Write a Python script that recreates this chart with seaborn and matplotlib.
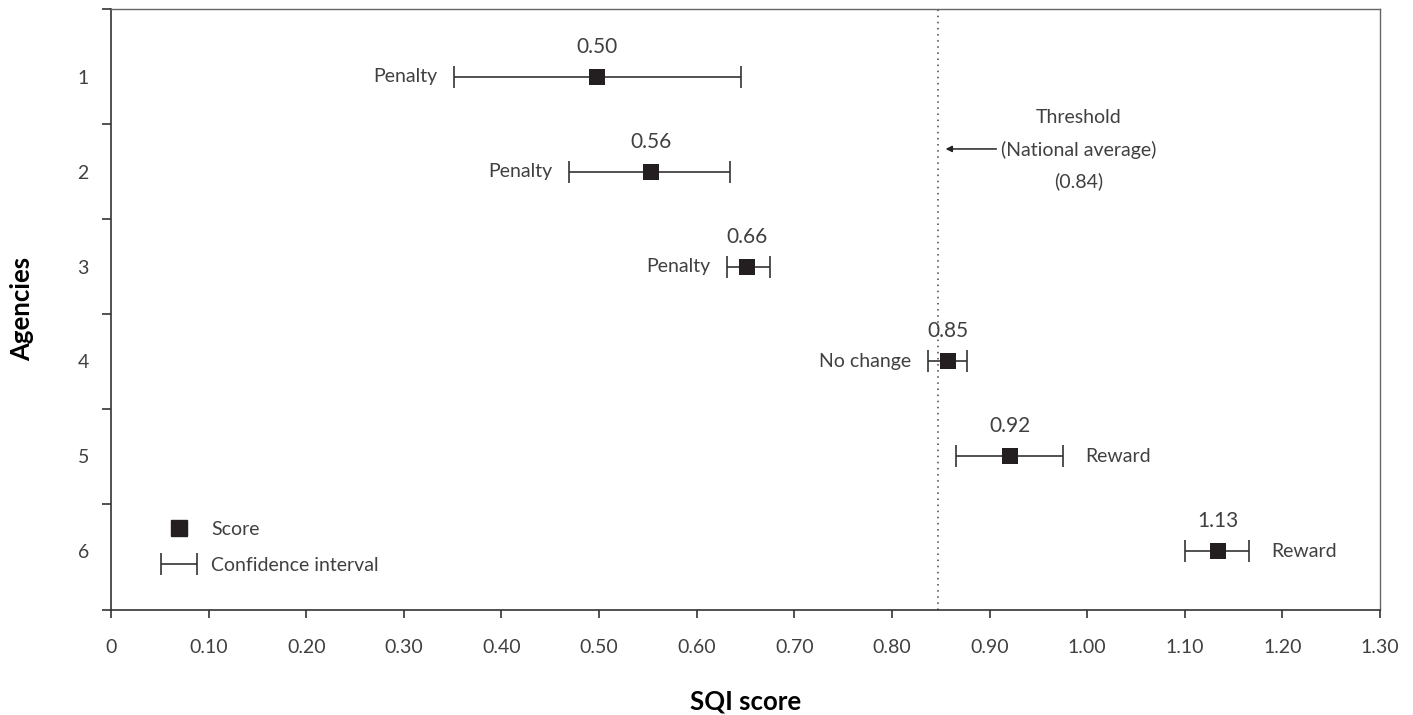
import numpy as np
import matplotlib
matplotlib.use("Agg")
import matplotlib.pyplot as plt
import seaborn as sns
from matplotlib.container import ErrorbarContainer
from matplotlib.legend_handler import HandlerErrorbar
from matplotlib.lines import Line2D

# values
agencies = [1, 2, 3, 4, 5, 6]
scores = [0.498, 0.553, 0.652, 0.857, 0.921, 1.134]
ci_low = [0.351, 0.469, 0.631, 0.837, 0.866, 1.100]
ci_high = [0.645, 0.634, 0.675, 0.877, 0.975, 1.166]
score_labels = ["0.50", "0.56", "0.66", "0.85", "0.92", "1.13"]
outcomes = ["Penalty", "Penalty", "Penalty", "No change", "Reward", "Reward"]
threshold = 0.847
x_ticks = [0, 0.1, 0.2, 0.3, 0.4, 0.5, 0.6, 0.7, 0.8, 0.9, 1.0, 1.1, 1.2, 1.3]
x_tick_labels = ["0", "0.10", "0.20", "0.30", "0.40", "0.50", "0.60", "0.70",
                 "0.80", "0.90", "1.00", "1.10", "1.20", "1.30"]
y_bounds = [0.28, 1.5, 2.5, 3.5, 4.5, 5.5, 6.62]

sns.set_theme(style="white")
plt.rcParams["font.family"] = ["Lato", "DejaVu Sans"]
txt = "#404040"
ink = "#231f20"
wt = "normal"

fig, ax = plt.subplots(figsize=(14.13, 7.15), dpi=100)
fig.subplots_adjust(left=0.0786, right=0.9766, bottom=0.147, top=0.988)

sc = np.array(scores)
xerr = [sc - np.array(ci_low), np.array(ci_high) - sc]
eb = ax.errorbar(scores, agencies, xerr=xerr, fmt="none", ecolor="#333333",
                 elinewidth=1.2, capsize=8, capthick=1.2, zorder=2)
sns.scatterplot(x=scores, y=agencies, marker="s", s=140, color=ink,
                edgecolor=ink, linewidth=0, ax=ax, zorder=3, legend=False)

ax.axvline(threshold, ls=(0, (1, 3)), color="#444444", lw=1.1, zorder=1)

for s, a, lab, out, lo, hi in zip(scores, agencies, score_labels, outcomes, ci_low, ci_high):
    ax.annotate(lab, (s, a), xytext=(0, 21.6), textcoords="offset points",
                ha="center", va="center", fontsize=15, color=txt, fontweight=wt)
    if out == "Reward":
        ax.annotate(out, (hi, a), xytext=(16, 0), textcoords="offset points",
                    ha="left", va="center", fontsize=14, color=txt, fontweight=wt)
    else:
        ax.annotate(out, (lo, a), xytext=(-12, 0), textcoords="offset points",
                    ha="right", va="center", fontsize=14, color=txt, fontweight=wt)

ax.text(0.991, 1.77, "Threshold\n(National average)\n(0.84)", ha="center", va="center",
        fontsize=14, color=txt, fontweight=wt, linespacing=1.95)
ax.annotate("", xy=(0.855, 1.76), xytext=(0.907, 1.76),
            arrowprops=dict(arrowstyle="-|>", color="#222222", lw=1.1,
                            mutation_scale=9, shrinkA=0, shrinkB=0))

ax.set_xlim(0, 1.3)
ax.set_ylim(6.62, 0.28)
ax.set_xticks(x_ticks, x_tick_labels)
ax.set_yticks(y_bounds, [""] * len(y_bounds))
ax.set_yticks(agencies, [str(a) for a in agencies], minor=True)
ax.tick_params(axis="x", bottom=True, direction="out", length=6, width=1.1,
               color="#222222", labelsize=14, labelcolor=txt, pad=15)
ax.tick_params(axis="y", which="major", left=True, direction="out", length=6.5,
               width=1.1, color="#222222")
ax.tick_params(axis="y", which="minor", left=True, length=0, labelsize=14,
               labelcolor=txt, pad=16)
for lbl in ax.get_xticklabels() + ax.get_yticklabels(minor=True):
    lbl.set_fontweight(wt)

for side in ["left", "bottom"]:
    ax.spines[side].set_color("#333333")
    ax.spines[side].set_linewidth(1.2)
for side in ["top", "right"]:
    ax.spines[side].set_color("#666666")
    ax.spines[side].set_linewidth(1.0)

ax.set_xlabel("SQI score", fontsize=18.5, fontweight="bold", color="black", labelpad=24)
ax.set_ylabel("Agencies", fontsize=18.5, fontweight="bold", color="black", labelpad=31)

score_handle = Line2D([], [], marker="s", color=ink, ls="none", markersize=11)
leg = ax.legend([score_handle, eb], ["Score", "Confidence interval"],
                handler_map={ErrorbarContainer: HandlerErrorbar(xerr_size=0.93)},
                loc="center left", bbox_to_anchor=(0.033, 0.104), borderaxespad=0,
                frameon=False, fontsize=14, handlelength=1.9, handletextpad=0.7,
                labelspacing=0.95)
for t in leg.get_texts():
    t.set_color(txt)
    t.set_fontweight(wt)

fig.savefig("out.png", dpi=100)
